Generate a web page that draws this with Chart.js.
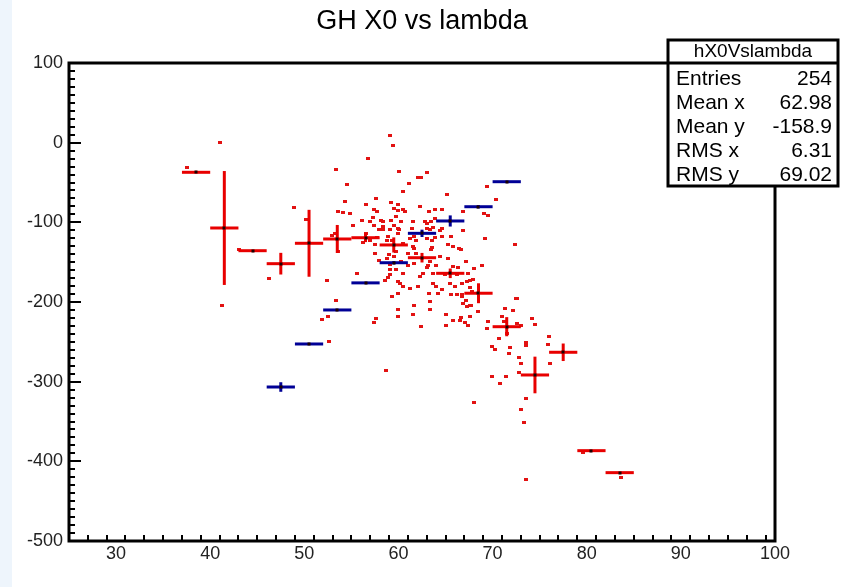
<!DOCTYPE html>
<html>
<head>
<meta charset="utf-8">
<script src="https://cdn.jsdelivr.net/npm/chart.js@4.4.1/dist/chart.umd.min.js"></script>
<style>
  html, body { margin: 0; padding: 0; background: #eef5fc; }
  #wrap { position: absolute; left: 0; top: 0; width: 851px; height: 587px; }
</style>
</head>
<body>
<div id="wrap"><canvas id="c" width="851" height="587"></canvas></div>
<script>
// ---------- data ----------
const chartTitle = "GH X0 vs lambda";
const xTickValues = [30, 40, 50, 60, 70, 80, 90, 100];
const yTickValues = [100, 0, -100, -200, -300, -400, -500];
const xRange = [25, 100];
const yRange = [-500, 100];

// scatter (lambda, X0)
const scatterX = [
  37.5, 41.0, 41.3, 43.1, 46.2, 48.9, 50.2, 52.4, 53.4, 51.9, 52.5, 57.4, 57.6, 53.4, 56.8, 54.5, 54.3, 53.6, 54.1, 54.8,
  55.2, 56.1, 56.6, 57.6, 57.4, 57.7, 56.2, 56.5, 57.5, 57.5, 55.6, 59.1, 59.4, 60.1, 59.2, 60.0, 59.5, 59.9, 57.0, 57.3,
  58.1, 58.4, 59.2, 59.5, 59.1, 60.0, 57.9, 58.4, 52.9, 53.3, 57.7, 58.9, 59.3, 59.9, 63.0, 62.1, 62.4, 61.1, 60.5, 65.2,
  69.4, 70.4, 60.5, 60.7, 62.3, 63.2, 63.9, 64.6, 66.9, 69.1, 69.5, 60.3, 61.5, 62.8, 63.0, 63.5, 63.9, 66.9, 60.1, 61.4,
  63.0, 63.4, 63.7, 64.4, 64.6, 65.6, 61.2, 61.7, 61.9, 63.0, 63.6, 63.9, 60.5, 69.2, 61.7, 63.6, 65.3, 65.8, 66.4, 53.6,
  59.0, 58.8, 59.7, 59.5, 59.1, 59.1, 58.9, 58.6, 59.9, 60.2, 59.3, 60.0, 59.9, 52.6, 58.7, 72.4, 68.9, 67.6, 67.9, 72.5,
  71.3, 72.2, 68.5, 74.2, 74.5, 71.0, 71.2, 69.5, 67.4, 67.1, 66.9, 67.3, 66.7, 67.8, 67.3, 67.6, 67.6, 66.6, 72.6, 69.4,
  71.5, 72.6, 73.0, 70.7, 69.9, 70.3, 71.7, 71.9, 73.6, 73.6, 76.0, 75.9, 76.1, 72.8, 73.0, 72.8, 69.9, 71.4, 70.8, 73.6,
  68.0, 73.0, 73.3, 73.6, 79.6, 83.6, 65.8, 66.2, 65.5, 66.0, 66.7, 67.6, 63.7, 64.0, 63.2, 64.2, 64.6, 65.6, 66.2, 66.7,
  67.2, 67.7, 63.3, 61.7, 63.4, 65.1, 65.8, 66.5, 65.1, 62.4, 61.5, 60.0, 61.2, 62.1, 60.5, 61.0, 61.7, 63.1, 64.0, 64.9,
  63.7, 62.6, 62.3, 57.4, 58.4, 59.7, 64.6, 66.6, 64.4, 63.5, 63.3, 63.0, 65.3, 66.3, 67.2, 67.4, 68.0, 61.5, 61.0, 61.9,
  57.9, 57.0, 58.8, 59.1, 59.7, 60.3, 60.5
];
const scatterY = [
  -31.4, -0.4, -204.6, -133.8, -171.1, -81.6, -96.2, -172.4, -197.5, -221.7, -217.6, -225.5, -220.5, -34.3, -19.6, -53.1, -74.1, -86.6, -87.9, -88.7,
  -104.6, -97.1, -77.0, -69.8, -84.5, -86.6, -125.6, -113.8, -128.4, -139.7, -164.8, 8.4, -3.8, -36.4, -75.4, -77.0, -82.4, -85.4, -99.2, -93.7,
  -97.1, -99.2, -97.9, -104.6, -108.7, -107.5, -108.7, -105.5, -115.9, -113.8, -118.8, -118.0, -122.2, -114.6, -37.2, -43.5, -43.5, -51.0, -61.5, -64.8,
  -55.3, -71.1, -84.5, -87.0, -80.4, -85.8, -84.5, -84.5, -85.8, -88.7, -90.8, -99.2, -99.2, -99.2, -101.2, -99.2, -94.9, -110.5, -109.6, -107.5,
  -107.5, -108.7, -106.7, -110.5, -118.0, -117.2, -120.0, -118.0, -122.2, -120.0, -122.2, -118.8, -126.3, -120.9, -132.6, -131.3, -128.4, -130.6, -132.6, -136.9,
  -141.0, -145.1, -136.9, -143.1, -159.8, -166.1, -169.0, -173.3, -174.5, -176.5, -192.5, -189.1, -218.4, -249.8, -286.6, -128.4, -154.8, -173.3, -171.2, -195.3,
  -207.9, -210.9, -212.2, -220.5, -228.0, -217.6, -224.7, -224.7, -228.9, -226.0, -201.6, -174.5, -191.2, -187.1, -205.9, -204.0, -218.4, -220.0, -196.2, -233.0,
  -239.3, -226.7, -228.9, -245.6, -256.1, -260.2, -264.4, -257.4, -251.1, -255.2, -242.7, -253.1, -277.8, -269.4, -276.9, -288.2, -292.9, -292.9, -302.9, -321.7,
  -326.4, -334.7, -351.5, -422.5, -388.6, -420.0, -155.7, -166.1, -177.4, -180.8, -177.4, -182.4, -177.4, -180.8, -189.1, -189.1, -184.9, -191.2, -190.3, -193.3,
  -197.5, -203.8, -199.6, -203.8, -210.0, -215.4, -222.6, -223.8, -229.7, -231.0, -216.3, -210.0, -182.8, -180.8, -180.0, -153.6, -151.4, -153.6, -153.6, -166.1,
  -164.0, -164.0, -168.2, -104.6, -109.6, -92.9, -107.5, -133.5, -143.1, -134.7, -149.4, -156.4, -145.1, -156.4, -149.4, -164.0, -157.7, -130.6, -138.9, -138.9,
  -147.3, -122.2, -122.2, -153.5, -159.8, -149.4, -164.0
];

// profile histograms (bin width 3)
const binWidth = 3;
const redCenters = [38.5, 41.5, 44.5, 47.5, 50.5, 53.5, 56.5, 59.5, 62.5, 65.5, 68.5, 71.5, 74.5, 77.5, 80.5, 83.5];
const redMeans   = [-37.2, -107.1, -135.6, -151.9, -126.3, -120.9, -119.3, -128.4, -144.4, -164.0, -189.0, -231.0, -291.6, -263.1, -386.6, -414.2];
const redErrors  = [0, 71.5, 0, 13.6, 42, 17.6, 5.5, 9.5, 6, 6, 12.5, 12, 23, 11, 0, 0];

const blueCenters = [47.5, 50.5, 53.5, 56.5, 59.5, 62.5, 65.5, 68.5, 71.5];
const blueMeans   = [-306.7, -252.7, -210.0, -176.0, -150.7, -113.8, -98.3, -80.4, -49.0];
const blueErrors  = [6, 0, 0, 0, 2, 4.6, 7, 2, 0];

// stats box
const statsName = "hX0Vslambda";
const statsLabels = ["Entries", "Mean x", "Mean y", "RMS x", "RMS y"];
const statsValues = ["254", "62.98", "-158.9", "6.31", "69.02"];

// ---------- drawing ----------
const FONT = "'Liberation Sans', Arial, Helvetica, sans-serif";
const RED = "#e80000";
const BLUE = "#000096";

const dot = document.createElement("canvas");
dot.width = 4; dot.height = 3;
{ const g = dot.getContext("2d"); g.fillStyle = "#e21212"; g.fillRect(0, 0, 4, 3); }

const points = scatterX.map((x, i) => ({ x: x, y: scatterY[i] }));

const rootPlugin = {
  id: "rootStyle",
  beforeDraw(chart) {
    const ctx = chart.ctx;
    ctx.save();
    ctx.fillStyle = "#eef5fc";
    ctx.fillRect(0, 0, chart.width, chart.height);
    ctx.fillStyle = "#ffffff";
    ctx.fillRect(12, 0, chart.width - 12, chart.height);
    ctx.restore();
  },
  afterDatasetsDraw(chart) {
    const ctx = chart.ctx;
    const xs = chart.scales.x, ys = chart.scales.y;
    ctx.save();
    const drawProfile = (centers, means, errs, color) => {
      ctx.strokeStyle = color;
      ctx.lineWidth = 3;
      ctx.lineCap = "butt";
      centers.forEach((c, i) => {
        const px = xs.getPixelForValue(c);
        const py = ys.getPixelForValue(means[i]);
        ctx.beginPath();
        ctx.moveTo(xs.getPixelForValue(c - binWidth / 2), py);
        ctx.lineTo(xs.getPixelForValue(c + binWidth / 2), py);
        ctx.stroke();
        if (errs[i] > 0) {
          ctx.beginPath();
          ctx.moveTo(px, ys.getPixelForValue(means[i] + errs[i]));
          ctx.lineTo(px, ys.getPixelForValue(means[i] - errs[i]));
          ctx.stroke();
        }
      });
      ctx.fillStyle = "#1a0000";
      centers.forEach((c, i) => {
        const px = xs.getPixelForValue(c);
        const py = ys.getPixelForValue(means[i]);
        ctx.fillRect(Math.round(px) - 1.5, Math.round(py) - 1.5, 3, 3);
      });
    };
    drawProfile(redCenters, redMeans, redErrors, RED);
    drawProfile(blueCenters, blueMeans, blueErrors, BLUE);
    ctx.restore();
  },
  afterDraw(chart) {
    const ctx = chart.ctx;
    const a = chart.chartArea;
    const xs = chart.scales.x, ys = chart.scales.y;
    ctx.save();
    // ticks (inside the frame)
    ctx.strokeStyle = "#000";
    ctx.lineWidth = 2;
    ctx.beginPath();
    for (let v = xRange[0]; v <= xRange[1] + 1e-9; v += 2) {
      if (v === xRange[0]) continue;
      const p = Math.round(xs.getPixelForValue(v));
      const len = xTickValues.includes(v) ? 12 : 6;
      ctx.moveTo(p, a.bottom);
      ctx.lineTo(p, a.bottom - len);
    }
    for (let v = yRange[0]; v <= yRange[1] + 1e-9; v += 10) {
      const p = Math.round(ys.getPixelForValue(v));
      const len = yTickValues.includes(v) ? 12 : 6;
      ctx.moveTo(a.left, p);
      ctx.lineTo(a.left + len, p);
    }
    ctx.stroke();
    // frame
    ctx.lineWidth = 3;
    ctx.strokeRect(a.left, a.top, a.right - a.left, a.bottom - a.top);

    // title
    ctx.fillStyle = "#000";
    ctx.font = "27px " + FONT;
    ctx.textAlign = "center";
    ctx.textBaseline = "middle";
    ctx.fillText(chartTitle, 422, 22);

    // stats box
    const bx = 668, by = 40, bw = 170, bh = 146, sep = 63;
    ctx.fillStyle = "#fff";
    ctx.fillRect(bx, by, bw, bh);
    ctx.lineWidth = 3;
    ctx.strokeStyle = "#000";
    ctx.strokeRect(bx, by, bw, bh);
    ctx.beginPath();
    ctx.moveTo(bx, sep); ctx.lineTo(bx + bw, sep);
    ctx.stroke();
    ctx.fillStyle = "#000";
    ctx.font = "19px " + FONT;
    ctx.textAlign = "center";
    ctx.fillText(statsName, bx + bw / 2, 52);
    ctx.font = "21px " + FONT;
    const rowY = [79, 103, 127, 151, 175];
    statsLabels.forEach((lab, i) => {
      ctx.textAlign = "left";
      ctx.fillText(lab, 676, rowY[i]);
      ctx.textAlign = "right";
      ctx.fillText(statsValues[i], 832, rowY[i]);
    });
    ctx.restore();
  }
};

new Chart(document.getElementById("c"), {
  type: "scatter",
  data: {
    datasets: [{
      data: points,
      pointStyle: dot,
      pointRadius: 2,
      pointHoverRadius: 2,
      showLine: false
    }]
  },
  options: {
    responsive: false,
    animation: false,
    devicePixelRatio: 1,
    layout: { padding: { left: 0, top: 63, right: 76, bottom: 0 } },
    plugins: { legend: { display: false }, tooltip: { enabled: false }, title: { display: false } },
    scales: {
      x: {
        type: "linear",
        min: xRange[0], max: xRange[1],
        afterBuildTicks: s => { s.ticks = xTickValues.map(v => ({ value: v })); },
        afterFit: s => { s.height = 46; },
        grid: { display: false, drawTicks: false },
        border: { display: false },
        ticks: { font: { family: FONT, size: 18 }, color: "#222", padding: 2, maxRotation: 0, autoSkip: false }
      },
      y: {
        type: "linear",
        min: yRange[0], max: yRange[1],
        afterBuildTicks: s => { s.ticks = yTickValues.map(v => ({ value: v })); },
        afterFit: s => { s.width = 69; },
        grid: { display: false, drawTicks: false },
        border: { display: false },
        ticks: { font: { family: FONT, size: 18 }, color: "#222", padding: 6, autoSkip: false }
      }
    }
  },
  plugins: [rootPlugin]
});
</script>
</body>
</html>
